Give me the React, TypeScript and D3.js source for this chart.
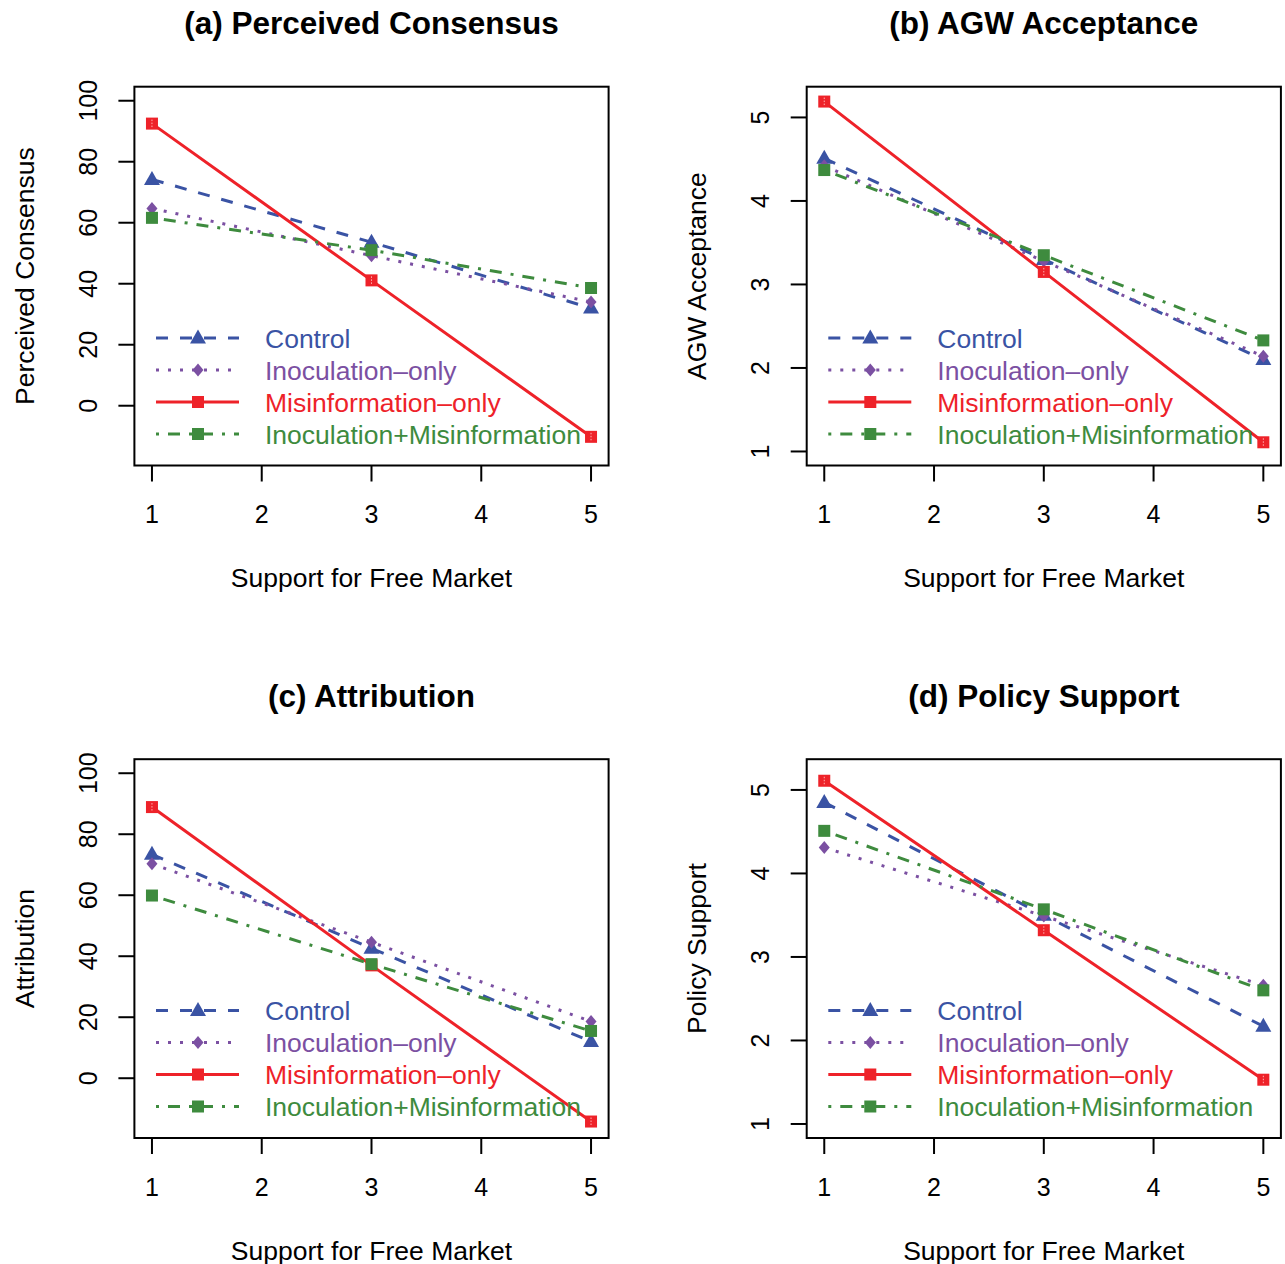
import React from 'react'
import * as d3 from 'd3'

// x positions (support for free market) where the groups were measured
const xLevels = [1, 3, 5]
const xTicks = [1, 2, 3, 4, 5]

const groupNames = ['Control', 'Inoculation–only', 'Misinformation–only', 'Inoculation+Misinformation']
const groupColors = ['#3a53a4', '#7b50a2', '#ee2229', '#3e8b3e']
const groupDash = ['12,12', '3,9', 'none', '3,9,12,9']
const groupShape = ['triangle', 'diamond', 'squareplus', 'square']

// (a) Perceived Consensus
const consensusControl = [74.2, 53.6, 32.0]
const consensusInoc = [64.7, 49.2, 34.0]
const consensusMisinfo = [92.5, 41.1, -10.2]
const consensusBoth = [61.6, 51.0, 38.6]

// (b) AGW Acceptance
const agwControl = [4.51, 3.30, 2.10]
const agwInoc = [4.42, 3.28, 2.14]
const agwMisinfo = [5.19, 3.15, 1.11]
const agwBoth = [4.37, 3.35, 2.33]

// (c) Attribution
const attribControl = [73.4, 42.6, 12.0]
const attribInoc = [70.3, 44.6, 18.6]
const attribMisinfo = [88.9, 37.0, -14.2]
const attribBoth = [59.9, 37.4, 15.5]

// (d) Policy Support
const policyControl = [4.85, 3.50, 2.17]
const policyInoc = [4.31, 3.49, 2.66]
const policyMisinfo = [5.11, 3.32, 1.53]
const policyBoth = [4.51, 3.57, 2.60]

const pctLim: [number, number] = [-15, 100]
const pctTicks = [0, 20, 40, 60, 80, 100]
const likertLim: [number, number] = [1, 5.2]
const likertTicks = [1, 2, 3, 4, 5]

const font = 'Liberation Sans, Arial, Helvetica, sans-serif'

interface PanelProps {
    ox: number
    oy: number
    title: string
    ylab: string
    series: number[][]
    ylim: [number, number]
    yticks: number[]
}

// R style axis range: data range padded by 4% on each side
const pad = (lim: [number, number]): [number, number] => {
    let d = (lim[1] - lim[0]) * 0.04
    return [lim[0] - d, lim[1] + d]
}

const Marker = ({ shape, x, y, color, inLegend }: { shape: string, x: number, y: number, color: string, inLegend?: boolean }) => {
    if (shape === 'triangle') {
        return <path d={`M${x},${y - 8.5} L${x + 8},${y + 5.5} L${x - 8},${y + 5.5} Z`} fill={color} />
    }
    if (shape === 'diamond') {
        return <path d={`M${x},${y - 6.5} L${x + 5.5},${y} L${x},${y + 6.5} L${x - 5.5},${y} Z`} fill={color} />
    }
    if (shape === 'squareplus' && !inLegend) {
        // square with a faint cross, like R's pch 12 drawn thick
        return (
            <g>
                <rect x={x - 6} y={y - 6} width={12} height={12} fill={color} />
                <line x1={x} x2={x} y1={y - 4} y2={y + 4} stroke="#ffb0b0" strokeWidth={1} strokeDasharray="1.5,1.5" />
            </g>
        )
    }
    return <rect x={x - 6} y={y - 6} width={12} height={12} fill={color} />
}

const Panel = ({ ox, oy, title, ylab, series, ylim, yticks }: PanelProps) => {
    let left = 134.4 + ox
    let right = 608.6 + ox
    let top = 86.7 + oy
    let bottom = 465.5 + oy

    let x = d3.scaleLinear().domain(pad([1, 5])).range([left, right])
    let y = d3.scaleLinear().domain(pad(ylim)).range([bottom, top])

    let line = d3.line<number>()
        .x((d, i) => x(xLevels[i]))
        .y(d => y(d))

    let cx = (left + right) / 2
    let cy = (top + bottom) / 2
    let tickLen = 16

    // legend sits in the lower left corner of the box
    let legRows = [338, 370, 402, 434].map(v => v + oy)
    let legX0 = 156 + ox
    let legX1 = 239 + ox
    let legSym = 198 + ox
    let legText = 265 + ox

    return (
        <g>
            <text x={cx} y={34 + oy} textAnchor="middle" fontFamily={font} fontWeight="bold" fontSize={31.5}>{title}</text>

            {series.map((vals, i) => (
                <g key={`s-${i}`}>
                    <path d={line(vals) || ''} fill="none" stroke={groupColors[i]} strokeWidth={3}
                          strokeDasharray={groupDash[i]} />
                    {vals.map((v, j) => (
                        <Marker key={`m-${i}-${j}`} shape={groupShape[i]} x={x(xLevels[j])} y={y(v)} color={groupColors[i]} />
                    ))}
                </g>
            ))}

            {groupNames.map((name, i) => (
                <g key={`leg-${i}`}>
                    <line x1={legX0} x2={legX1} y1={legRows[i]} y2={legRows[i]} stroke={groupColors[i]}
                          strokeWidth={3} strokeDasharray={groupDash[i]} />
                    <Marker shape={groupShape[i]} x={legSym} y={legRows[i]} color={groupColors[i]} inLegend />
                    <text x={legText} y={legRows[i] + 9.5} fontFamily={font} fontSize={26.5} fill={groupColors[i]}>{name}</text>
                </g>
            ))}

            <rect x={left} y={top} width={right - left} height={bottom - top} fill="none" stroke="black" strokeWidth={2} />

            {xTicks.map(t => (
                <g key={`xt-${t}`}>
                    <line x1={x(t)} x2={x(t)} y1={bottom} y2={bottom + tickLen} stroke="black" strokeWidth={2} />
                    <text x={x(t)} y={523 + oy} textAnchor="middle" fontFamily={font} fontSize={25}>{t}</text>
                </g>
            ))}
            {yticks.map(t => (
                <g key={`yt-${t}`}>
                    <line x1={left - tickLen} x2={left} y1={y(t)} y2={y(t)} stroke="black" strokeWidth={2} />
                    <text transform={`translate(${96.5 + ox},${y(t)}) rotate(-90)`} textAnchor="middle"
                          fontFamily={font} fontSize={25}>{t}</text>
                </g>
            ))}

            <text x={cx} y={587 + oy} textAnchor="middle" fontFamily={font} fontSize={26.5}>Support for Free Market</text>
            <text transform={`translate(${33.5 + ox},${cy}) rotate(-90)`} textAnchor="middle"
                  fontFamily={font} fontSize={26.5}>{ylab}</text>
        </g>
    )
}

const App = () => {
    let dx = 672.3
    let dy = 672.5
    return (
        <svg width={1285} height={1264} style={{ position: 'absolute', left: 0, top: 0, background: 'white' }}>
            <rect width={1285} height={1264} fill="white" />
            <Panel ox={0} oy={0} title="(a) Perceived Consensus" ylab="Perceived Consensus"
                   series={[consensusControl, consensusInoc, consensusMisinfo, consensusBoth]}
                   ylim={pctLim} yticks={pctTicks} />
            <Panel ox={dx} oy={0} title="(b) AGW Acceptance" ylab="AGW Acceptance"
                   series={[agwControl, agwInoc, agwMisinfo, agwBoth]}
                   ylim={likertLim} yticks={likertTicks} />
            <Panel ox={0} oy={dy} title="(c) Attribution" ylab="Attribution"
                   series={[attribControl, attribInoc, attribMisinfo, attribBoth]}
                   ylim={pctLim} yticks={pctTicks} />
            <Panel ox={dx} oy={dy} title="(d) Policy Support" ylab="Policy Support"
                   series={[policyControl, policyInoc, policyMisinfo, policyBoth]}
                   ylim={likertLim} yticks={likertTicks} />
        </svg>
    )
}

export default App
